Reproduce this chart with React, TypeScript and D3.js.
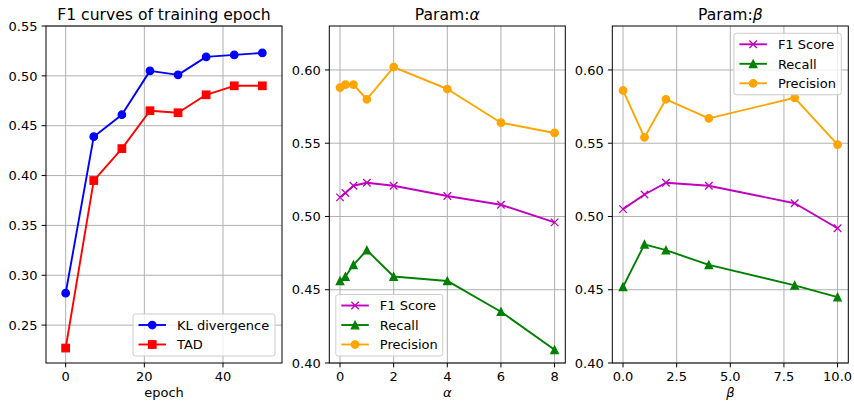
import React, { useEffect, useRef } from 'react';
import * as d3 from 'd3';

// training curves
const epochs = [0, 7.14, 14.29, 21.43, 28.57, 35.71, 42.86, 50];
const klDivergence = [0.282, 0.439, 0.461, 0.505, 0.501, 0.519, 0.521, 0.523];
const tadScores = [0.227, 0.395, 0.427, 0.465, 0.463, 0.481, 0.49, 0.49];

// alpha sweep
const alphaValues = [0, 0.2, 0.5, 1, 2, 4, 6, 8];
const alphaF1 = [0.513, 0.516, 0.521, 0.523, 0.521, 0.514, 0.508, 0.496];
const alphaRecall = [0.456, 0.459, 0.467, 0.477, 0.459, 0.456, 0.435, 0.409];
const alphaPrecision = [0.588, 0.59, 0.59, 0.58, 0.602, 0.587, 0.564, 0.557];

// beta sweep
const betaValues = [0, 1, 2, 4, 8, 10];
const betaF1 = [0.505, 0.515, 0.523, 0.521, 0.509, 0.492];
const betaRecall = [0.452, 0.481, 0.477, 0.467, 0.453, 0.445];
const betaPrecision = [0.586, 0.554, 0.58, 0.567, 0.581, 0.549];

// ticks
const epochTicks = [0, 20, 40];
const epochYTicks = [0.25, 0.3, 0.35, 0.4, 0.45, 0.5, 0.55];
const alphaTicks = [0, 2, 4, 6, 8];
const betaTicks = [0, 2.5, 5, 7.5, 10];
const paramYTicks = [0.4, 0.45, 0.5, 0.55, 0.6];

const FONT = '"DejaVu Sans", sans-serif';
const FS = 13;
const TITLE_FS = 15.6;
const W = 854;
const H = 401;

type Series = { name: string; x: number[]; y: number[]; color: string; marker: string };
type Panel = {
  left: number;
  xDomain: [number, number];
  yDomain: [number, number];
  xTicks: number[];
  yTicks: number[];
  xFmt: (v: number) => string;
  title: [string, string];
  xLabel: [string, string];
  series: Series[];
  legend: 'lower right' | 'lower left' | 'upper right';
  legendW: number;
};

const TOP = 26;
const BOTTOM = 363;
const PW = 236;

function drawMarker(g: any, kind: string, x: number, y: number, color: string) {
  const s = 7.5;
  if (kind === 'o') {
    g.append('circle').attr('cx', x).attr('cy', y).attr('r', s / 2)
      .attr('fill', color).attr('stroke', color).attr('stroke-width', 1.25);
  } else if (kind === 's') {
    g.append('rect').attr('x', x - s / 2).attr('y', y - s / 2).attr('width', s).attr('height', s)
      .attr('fill', color).attr('stroke', color).attr('stroke-width', 1.25);
  } else if (kind === '^') {
    const h = s / 2;
    g.append('path').attr('d', `M${x},${y - h}L${x - h},${y + h}L${x + h},${y + h}Z`)
      .attr('fill', color).attr('stroke', color).attr('stroke-width', 1.25);
  } else if (kind === 'x') {
    const h = s / 2;
    g.append('path').attr('d', `M${x - h},${y - h}L${x + h},${y + h}M${x - h},${y + h}L${x + h},${y - h}`)
      .attr('fill', 'none').attr('stroke', color).attr('stroke-width', 1.25);
  }
}

function drawPanel(svg: any, p: Panel, idx: number) {
  const right = p.left + PW;
  const x = d3.scaleLinear().domain(p.xDomain).range([p.left, right]);
  const y = d3.scaleLinear().domain(p.yDomain).range([BOTTOM, TOP]);
  const g = svg.append('g');

  // grid
  g.selectAll('.gx').data(p.xTicks).enter().append('line')
    .attr('x1', (d: number) => x(d)).attr('x2', (d: number) => x(d))
    .attr('y1', TOP).attr('y2', BOTTOM)
    .attr('stroke', '#b0b0b0').attr('stroke-width', 1);
  g.selectAll('.gy').data(p.yTicks).enter().append('line')
    .attr('x1', p.left).attr('x2', right)
    .attr('y1', (d: number) => y(d)).attr('y2', (d: number) => y(d))
    .attr('stroke', '#b0b0b0').attr('stroke-width', 1);

  // series
  const clipId = `clip${idx}`;
  svg.append('clipPath').attr('id', clipId).append('rect')
    .attr('x', p.left).attr('y', TOP).attr('width', PW).attr('height', BOTTOM - TOP);
  const plot = g.append('g').attr('clip-path', `url(#${clipId})`);
  p.series.forEach((s) => {
    const pts: [number, number][] = s.x.map((v, i) => [x(v), y(s.y[i])]);
    plot.append('path').attr('d', d3.line()(pts)).attr('fill', 'none')
      .attr('stroke', s.color).attr('stroke-width', 1.9).attr('stroke-linejoin', 'round');
    pts.forEach(([px, py]) => drawMarker(plot, s.marker, px, py, s.color));
  });

  // spines
  g.append('rect').attr('x', p.left).attr('y', TOP).attr('width', PW).attr('height', BOTTOM - TOP)
    .attr('fill', 'none').attr('stroke', '#000').attr('stroke-width', 1);

  // ticks
  p.xTicks.forEach((t) => {
    g.append('line').attr('x1', x(t)).attr('x2', x(t)).attr('y1', BOTTOM).attr('y2', BOTTOM + 4.4)
      .attr('stroke', '#000').attr('stroke-width', 1);
    g.append('text').attr('x', x(t)).attr('y', BOTTOM + 17.8).attr('text-anchor', 'middle')
      .attr('font-family', FONT).attr('font-size', FS).text(p.xFmt(t));
  });
  p.yTicks.forEach((t) => {
    g.append('line').attr('x1', p.left - 4.4).attr('x2', p.left).attr('y1', y(t)).attr('y2', y(t))
      .attr('stroke', '#000').attr('stroke-width', 1);
    g.append('text').attr('x', p.left - 8.5).attr('y', y(t) + 4.7).attr('text-anchor', 'end')
      .attr('font-family', FONT).attr('font-size', FS).text(d3.format('.2f')(t));
  });

  // title
  const title = g.append('text').attr('x', (p.left + right) / 2).attr('y', 19.5)
    .attr('text-anchor', 'middle').attr('font-family', FONT).attr('font-size', TITLE_FS);
  title.append('tspan').text(p.title[0]);
  if (p.title[1]) title.append('tspan').attr('font-style', 'italic').text(p.title[1]);

  // x label
  const xl = g.append('text').attr('x', (p.left + right) / 2).attr('y', 397)
    .attr('text-anchor', 'middle').attr('font-family', FONT).attr('font-size', FS);
  xl.append('tspan').text(p.xLabel[0]);
  if (p.xLabel[1]) xl.append('tspan').attr('font-style', 'italic').text(p.xLabel[1]);

  // legend
  const rowH = 19.5;
  const lh = p.series.length * rowH + 3;
  const lx = p.legend === 'lower left' ? p.left + 6.5 : right - 7 - p.legendW;
  const ly = p.legend === 'upper right' ? TOP + 7.3 : BOTTOM - 7 - lh;
  const lg = g.append('g');
  lg.append('rect').attr('x', lx).attr('y', ly).attr('width', p.legendW).attr('height', lh)
    .attr('rx', 2.5).attr('fill', '#fff').attr('fill-opacity', 0.8)
    .attr('stroke', '#cccccc').attr('stroke-width', 1);
  p.series.forEach((s, i) => {
    const ry = ly + 11 + i * rowH;
    lg.append('line').attr('x1', lx + 5.5).attr('x2', lx + 33).attr('y1', ry).attr('y2', ry)
      .attr('stroke', s.color).attr('stroke-width', 1.9);
    drawMarker(lg, s.marker, lx + 19.25, ry, s.color);
    lg.append('text').attr('x', lx + 44).attr('y', ry + 4.7)
      .attr('font-family', FONT).attr('font-size', FS).text(s.name);
  });
}

const App = () => {
  const ref = useRef<SVGSVGElement>(null);

  useEffect(() => {
    const svg = d3.select(ref.current);
    svg.selectAll('*').remove();
    svg.append('rect').attr('width', W).attr('height', H).attr('fill', '#fff');

    const fmtInt = (v: number) => d3.format('d')(v);
    const fmt1 = (v: number) => d3.format('.1f')(v);

    const panels: Panel[] = [
      {
        left: 46, xDomain: [-5, 55], yDomain: [0.212, 0.55],
        xTicks: epochTicks, yTicks: epochYTicks, xFmt: fmtInt,
        title: ['F1 curves of training epoch', ''], xLabel: ['epoch', ''],
        series: [
          { name: 'KL divergence', x: epochs, y: klDivergence, color: '#0000ff', marker: 'o' },
          { name: 'TAD', x: epochs, y: tadScores, color: '#ff0000', marker: 's' },
        ],
        legend: 'lower right', legendW: 142,
      },
      {
        left: 329.3, xDomain: [-0.4, 8.4], yDomain: [0.4, 0.63],
        xTicks: alphaTicks, yTicks: paramYTicks, xFmt: fmtInt,
        title: ['Param:', 'α'], xLabel: ['', 'α'],
        series: [
          { name: 'F1 Score', x: alphaValues, y: alphaF1, color: '#bf00bf', marker: 'x' },
          { name: 'Recall', x: alphaValues, y: alphaRecall, color: '#008000', marker: '^' },
          { name: 'Precision', x: alphaValues, y: alphaPrecision, color: '#ffa500', marker: 'o' },
        ],
        legend: 'lower left', legendW: 107,
      },
      {
        left: 612.3, xDomain: [-0.5, 10.5], yDomain: [0.4, 0.63],
        xTicks: betaTicks, yTicks: paramYTicks, xFmt: fmt1,
        title: ['Param:', 'β'], xLabel: ['', 'β'],
        series: [
          { name: 'F1 Score', x: betaValues, y: betaF1, color: '#bf00bf', marker: 'x' },
          { name: 'Recall', x: betaValues, y: betaRecall, color: '#008000', marker: '^' },
          { name: 'Precision', x: betaValues, y: betaPrecision, color: '#ffa500', marker: 'o' },
        ],
        legend: 'upper right', legendW: 107.4,
      },
    ];

    panels.forEach((p, i) => drawPanel(svg, p, i));
  }, []);

  return (
    <svg ref={ref} width={W} height={H}
      style={{ position: 'absolute', left: 0, top: 0, display: 'block' }} />
  );
};

export default App;
